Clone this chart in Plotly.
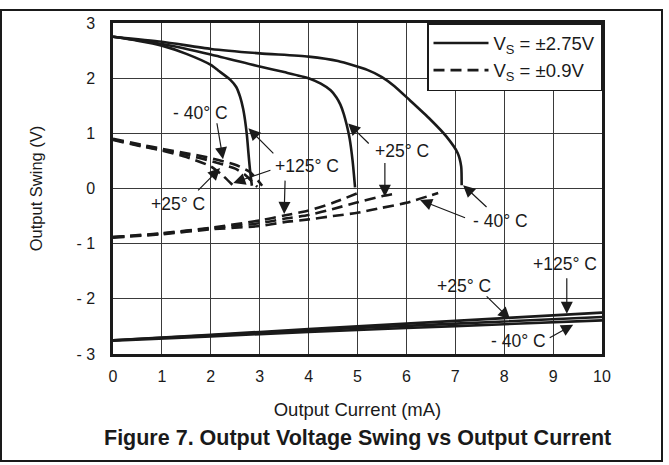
import plotly.graph_objects as go

# ---- data ----
# Vs = ±2.75V, positive swing
pos_m40_x = [0, 1, 2, 3, 4, 4.6, 5.2, 5.5, 5.75, 6.07, 6.48, 6.82, 7.05, 7.12, 7.13]
pos_m40_y = [2.75, 2.66, 2.53, 2.45, 2.39, 2.31, 2.15, 2.02, 1.86, 1.6, 1.26, 0.94, 0.64, 0.40, 0.06]
pos_25_x = [0, 1, 2, 3, 3.5, 4.0, 4.25, 4.45, 4.57, 4.65, 4.72, 4.78, 4.84, 4.9, 4.95]
pos_25_y = [2.75, 2.62, 2.43, 2.21, 2.11, 2.0, 1.9, 1.78, 1.65, 1.52, 1.35, 1.15, 0.9, 0.5, 0.02]
pos_125_x = [0, 0.5, 1, 1.5, 2, 2.15, 2.4, 2.52, 2.6, 2.66, 2.7, 2.74, 2.77, 2.8, 2.84]
pos_125_y = [2.75, 2.68, 2.59, 2.44, 2.24, 2.14, 1.97, 1.84, 1.66, 1.45, 1.24, 0.95, 0.64, 0.35, 0.05]
# Vs = ±2.75V, negative swing
neg_x = [0, 2, 4, 6, 8, 10]
neg_125_y = [-2.75, -2.65, -2.55, -2.45, -2.35, -2.25]
neg_25_y = [-2.75, -2.66, -2.57, -2.49, -2.41, -2.33]
neg_m40_y = [-2.76, -2.68, -2.60, -2.53, -2.46, -2.39]
# Vs = ±0.9V, positive swing
dpos_m40_x = [0, 0.6, 1, 1.5, 2, 2.5, 2.8, 3.05]
dpos_m40_y = [0.90, 0.79, 0.72, 0.64, 0.55, 0.43, 0.30, 0.05]
dpos_25_x = [0, 0.6, 1, 1.5, 2, 2.5, 2.7, 2.95]
dpos_25_y = [0.89, 0.77, 0.70, 0.61, 0.50, 0.36, 0.25, 0.03]
dpos_125_x = [0, 0.6, 1, 1.5, 2, 2.25, 2.45]
dpos_125_y = [0.88, 0.76, 0.69, 0.57, 0.40, 0.23, 0.06]
# Vs = ±0.9V, negative swing
dneg_125_x = [0, 1, 2, 3, 3.5, 4, 4.5, 5.1]
dneg_125_y = [-0.88, -0.81, -0.71, -0.58, -0.49, -0.40, -0.26, -0.05]
dneg_25_x = [0, 1, 2, 3, 3.5, 4, 4.5, 5, 5.5, 5.8]
dneg_25_y = [-0.88, -0.82, -0.72, -0.63, -0.55, -0.48, -0.37, -0.25, -0.14, -0.09]
dneg_m40_x = [0, 1, 2, 3, 3.5, 4, 4.5, 5, 5.5, 6, 6.65]
dneg_m40_y = [-0.89, -0.83, -0.74, -0.68, -0.61, -0.56, -0.50, -0.44, -0.35, -0.26, -0.08]

x_ticks = [0, 1, 2, 3, 4, 5, 6, 7, 8, 9, 10]
y_ticks = [-3, -2, -1, 0, 1, 2, 3]
y_tick_text = ["- 3", "- 2", "- 1", "0", "1", "2", "3"]

FONT = "Liberation Sans, Arial, sans-serif"
INK = "#1a1a1a"

fig = go.Figure()

solid = [
    (pos_m40_x, pos_m40_y), (pos_25_x, pos_25_y), (pos_125_x, pos_125_y),
    (neg_x, neg_125_y), (neg_x, neg_25_y), (neg_x, neg_m40_y),
]
dashed = [
    (dpos_m40_x, dpos_m40_y), (dpos_25_x, dpos_25_y), (dpos_125_x, dpos_125_y),
    (dneg_125_x, dneg_125_y), (dneg_25_x, dneg_25_y), (dneg_m40_x, dneg_m40_y),
]
for i, (xs, ys) in enumerate(solid):
    fig.add_trace(go.Scatter(
        x=xs, y=ys, mode="lines", line=dict(color=INK, width=2.6, shape="spline", smoothing=0.6),
        name="V<sub>S</sub> = ±2.75V", legendgroup="a", showlegend=(i == 0)))
for i, (xs, ys) in enumerate(dashed):
    fig.add_trace(go.Scatter(
        x=xs, y=ys, mode="lines",
        line=dict(color=INK, width=2.6, dash="11px,6px", shape="spline", smoothing=0.6),
        name="V<sub>S</sub> = ±0.9V", legendgroup="b", showlegend=(i == 0)))

labels = [
    ("- 40° C", 1.78, 1.37), ("+125° C", 3.97, 0.40), ("+25° C", 1.32, -0.28),
    ("+25° C", 5.92, 0.68), ("- 40° C", 7.93, -0.59), ("+25° C", 7.18, -1.76),
    ("+125° C", 9.24, -1.37), ("- 40° C", 8.30, -2.76),
]
ann = []
for t, x, y in labels:
    ann.append(dict(x=x, y=y, xref="x", yref="y", text=t, showarrow=False,
                    font=dict(family=FONT, size=17.5, color=INK)))

arrows = [
    ((2.12, 1.21), (2.25, 0.53)), ((3.31, 0.61), (2.77, 1.09)),
    ((3.25, 0.34), (2.46, 0.10)), ((3.52, 0.17), (3.50, -0.46)),
    ((1.71, -0.06), (2.19, 0.37)), ((5.26, 0.79), (4.81, 1.18)),
    ((5.56, 0.49), (5.56, -0.15)), ((7.67, -0.36), (7.16, 0.06)),
    ((7.23, -0.54), (6.28, -0.21)), ((7.61, -1.93), (8.12, -2.37)),
    ((9.28, -1.60), (9.28, -2.27)), ((8.90, -2.72), (9.41, -2.47)),
]
for (tx, ty), (hx, hy) in arrows:
    ann.append(dict(x=hx, y=hy, ax=tx, ay=ty, xref="x", yref="y", axref="x", ayref="y",
                    text="", showarrow=True, arrowhead=2, arrowsize=2, arrowwidth=1.2,
                    arrowcolor=INK, standoff=0, startstandoff=0))

ann.append(dict(x=0.5, y=(354 - 438) / 331, xref="paper", yref="paper",
                text="<b>Figure 7. Output Voltage Swing vs Output Current</b>",
                showarrow=False, yanchor="middle",
                font=dict(family=FONT, size=21.5, color=INK)))

shapes = [dict(type="rect", xref="paper", yref="paper",
               x0=(1 - 113) / 489, x1=(662 - 113) / 489,
               y0=(354 - 461) / 331, y1=(354 - 10) / 331,
               line=dict(color=INK, width=2), layer="below")]

axis_common = dict(showgrid=True, gridcolor="#3a3a3a", gridwidth=1, zeroline=False,
                   showline=True, linecolor=INK, linewidth=2.5, mirror=True,
                   ticks="", tickfont=dict(family=FONT, size=16, color=INK))

fig.update_layout(
    width=669, height=465,
    margin=dict(l=113, r=67, t=23, b=111),
    paper_bgcolor="white", plot_bgcolor="white",
    font=dict(family=FONT, color=INK),
    xaxis=dict(range=[0, 10], tickvals=x_ticks, ticklabelstandoff=6,
               title=dict(text="Output Current (mA)", font=dict(family=FONT, size=18.5, color=INK),
                          standoff=20),
               **axis_common),
    yaxis=dict(range=[-3, 3], tickvals=y_ticks, ticktext=y_tick_text, ticklabelstandoff=12,
               title=dict(text="Output Swing (V)", font=dict(family=FONT, size=16.5, color=INK),
                          standoff=30),
               **axis_common),
    legend=dict(x=1, y=1, xanchor="right", yanchor="top", bgcolor="white",
                bordercolor=INK, borderwidth=1.5, font=dict(family=FONT, size=18.5, color=INK),
                tracegroupgap=0, itemwidth=55),
    annotations=ann, shapes=shapes,
)

fig.write_html("out.html", post_script="document.body.style.margin='0';",
               config={"displayModeBar": False})
